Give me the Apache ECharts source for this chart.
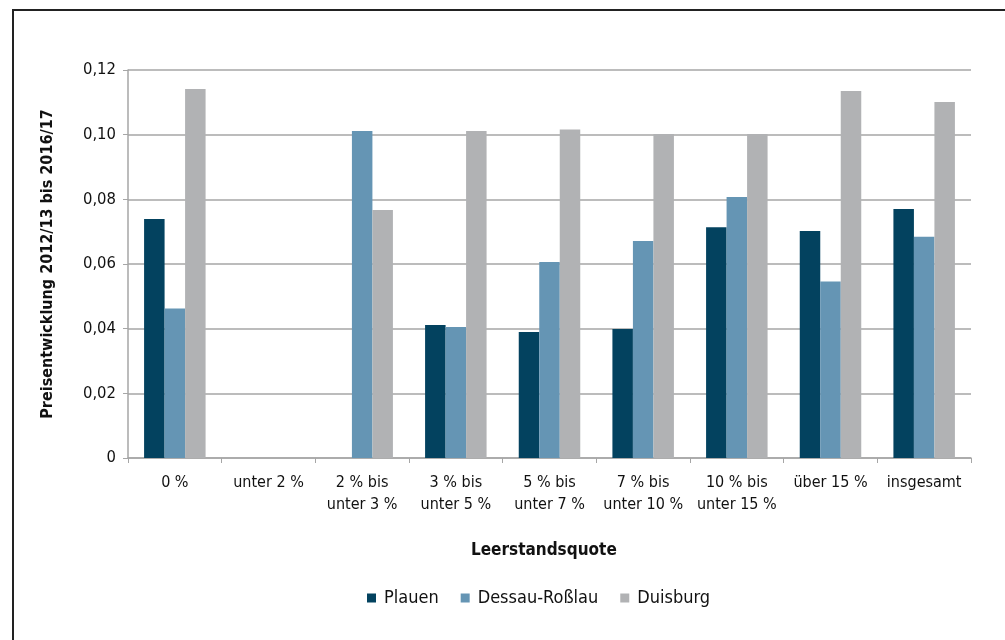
<!DOCTYPE html>
<html>
<head>
<meta charset="utf-8">
<script src="https://cdn.jsdelivr.net/npm/echarts@6/dist/echarts.min.js"></script>
<style>
html,body{margin:0;padding:0;background:#fff;}
#c{width:1005px;height:640px;}
</style>
</head>
<body>
<div id="c"></div>
<script>
const categories = ['0 %', 'unter 2 %', '2 % bis\nunter 3 %', '3 % bis\nunter 5 %', '5 % bis\nunter 7 %', '7 % bis\nunter 10 %', '10 % bis\nunter 15 %', 'über 15 %', 'insgesamt'];
const plauen = [0.0739, null, null, 0.0411, 0.0390, 0.0399, 0.0714, 0.0702, 0.0770];
const dessau = [0.0462, null, 0.1011, 0.0405, 0.0606, 0.0671, 0.0807, 0.0546, 0.0684];
const duisburg = [0.1141, null, 0.0767, 0.1011, 0.1016, 0.1002, 0.1002, 0.1135, 0.1101];
const yTicks = [0, 0.02, 0.04, 0.06, 0.08, 0.10, 0.12];

const FONT = '"Liberation Sans Narrow", "DejaVu Sans Condensed", "Roboto", sans-serif';
const chart = echarts.init(document.getElementById('c'), null, {renderer: 'canvas'});
chart.setOption({
  animation: false,
  backgroundColor: '#fff',
  textStyle: {fontFamily: FONT},
  grid: {left: 128, right: 34, top: 70, bottom: 182, containLabel: false},
  graphic: [
    {type: 'rect', shape: {x: 13, y: 10, width: 1010, height: 660}, style: {fill: 'none', stroke: '#222', lineWidth: 2}, z: 100},
    {type: 'text', left: 471, top: 542, style: {text: 'Leerstandsquote', font: 'bold 17px ' + FONT, fill: '#111'}}
  ],
  legend: {
    bottom: 28, left: 362,
    itemWidth: 9, itemHeight: 9, itemGap: 22,
    icon: 'rect',
    textStyle: {fontFamily: FONT, fontSize: 18, color: '#111', padding: [0, 0, 0, 3]},
    data: ['Plauen', 'Dessau-Roßlau', 'Duisburg']
  },
  xAxis: {
    type: 'category',
    data: categories,
    axisLine: {lineStyle: {color: '#a6a6a6', width: 1.5}},
    axisTick: {show: true, length: 5, lineStyle: {color: '#a6a6a6'}},
    axisLabel: {fontFamily: FONT, fontSize: 16, color: '#111', margin: 14, lineHeight: 22, interval: 0}
  },
  yAxis: {
    type: 'value', min: 0, max: 0.12, interval: 0.02,
    name: 'Preisentwicklung 2012/13 bis 2016/17',
    nameLocation: 'middle', nameGap: 72,
    nameTextStyle: {fontFamily: FONT, fontSize: 16, fontWeight: 'bold', color: '#111'},
    axisLine: {show: true, lineStyle: {color: '#a6a6a6', width: 1.5}},
    axisTick: {show: true, length: 5, lineStyle: {color: '#a6a6a6'}},
    splitLine: {lineStyle: {color: '#a6a6a6', width: 1.5}},
    axisLabel: {fontFamily: FONT, fontSize: 16.5, color: '#111', margin: 12,
      formatter: v => v === 0 ? '0' : v.toFixed(2).replace('.', ',')}
  },
  series: [
    {name: 'Plauen', type: 'bar', data: plauen, itemStyle: {color: '#03425f'}, barWidth: 20.5, barGap: '0%'},
    {name: 'Dessau-Roßlau', type: 'bar', data: dessau, itemStyle: {color: '#6595b4'}, barWidth: 20.5, barGap: '0%'},
    {name: 'Duisburg', type: 'bar', data: duisburg, itemStyle: {color: '#b1b2b4'}, barWidth: 20.5, barGap: '0%'}
  ]
});
</script>
</body>
</html>
